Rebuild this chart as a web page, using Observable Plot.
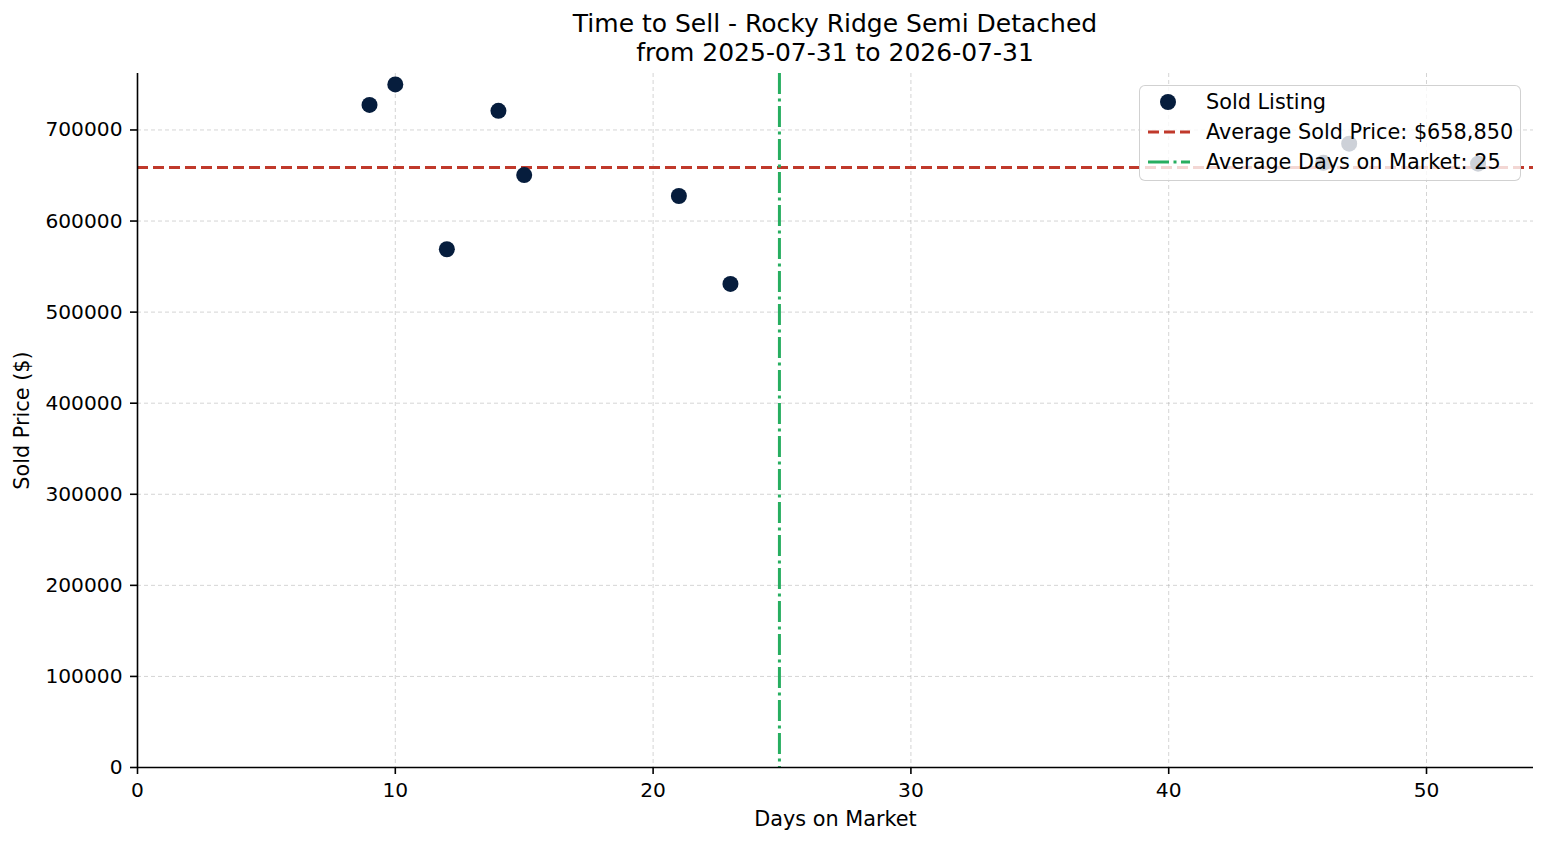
<!DOCTYPE html>
<html>
<head>
<meta charset="utf-8">
<script src="https://cdn.jsdelivr.net/npm/d3@7"></script>
<script src="https://cdn.jsdelivr.net/npm/@observablehq/plot@0.6"></script>
<style>
  html, body { margin: 0; padding: 0; background: #fff; }
  body { font-family: "DejaVu Sans", sans-serif; }
  #wrap { position: relative; width: 1547px; height: 845px; overflow: hidden; }
  #title { position: absolute; left: 137px; width: 1396px; top: 10px; text-align: center;
           font-size: 25px; line-height: 28.5px; color: #000; }
  #chart { position: absolute; left: 0; top: 65px; }
  #legend { position: absolute; left: 1139px; top: 85px; width: 382px; height: 96px; box-sizing: border-box;
            background: rgba(255,255,255,0.8); border: 1.6px solid rgba(204,204,204,0.9); border-radius: 6px; }
  #legend .row { position: absolute; left: 0; height: 30px; width: 100%; }
  #legend .row svg { position: absolute; left: 7px; top: 0; }
  #legend .row span { position: absolute; left: 66px; top: 0; line-height: 30px; font-size: 20.8px; color: #000; white-space: nowrap; }
</style>
</head>
<body>
<div id="wrap">
  <div id="title"></div>
  <div id="chart"></div>
  <div id="legend"></div>
</div>
<script>
// ---- data ----
const titleLines = ["Time to Sell - Rocky Ridge Semi Detached", "from 2025-07-31 to 2026-07-31"];
const daysOnMarket = [9, 10, 12, 14, 15, 21, 23, 46, 47, 52];
const soldPrices = [727500, 750000, 569000, 721000, 650500, 627500, 531000, 664000, 685000, 663000];
const xTicks = [0, 10, 20, 30, 40, 50];
const yTicks = [0, 100000, 200000, 300000, 400000, 500000, 600000, 700000];
const xLabel = "Days on Market";
const yLabel = "Sold Price ($)";
const legendLabels = ["Sold Listing", "Average Sold Price: ", "Average Days on Market: "];

const colors = { point: "#061d3d", price: "#c0392b", days: "#27ae60" };

const rows = daysOnMarket.map((d, i) => ({ days: d, price: soldPrices[i] }));
const avgPrice = d3.mean(soldPrices);
const avgDays = d3.mean(daysOnMarket);

document.getElementById("title").innerHTML = titleLines.join("<br>");

const plot = Plot.plot({
  width: 1547,
  height: 780,
  marginTop: 8,
  marginBottom: 78,
  marginLeft: 137,
  marginRight: 14,
  style: { fontFamily: "DejaVu Sans, sans-serif", fontSize: "20.2px", color: "#000", background: "#fff" },
  x: { domain: [0, 54.15] },
  y: { domain: [0, 762000] },
  marks: [
    Plot.gridX(xTicks, { stroke: "#b0b0b0", strokeOpacity: 0.55, strokeWidth: 1, strokeDasharray: "4,3" }),
    Plot.gridY(yTicks, { stroke: "#b0b0b0", strokeOpacity: 0.55, strokeWidth: 1, strokeDasharray: "4,3" }),
    Plot.ruleY([avgPrice], { stroke: colors.price, strokeWidth: 3, strokeDasharray: "11,5" }),
    Plot.ruleX([avgDays], { stroke: colors.days, strokeWidth: 3, strokeDasharray: "21,4.5,3,4.5" }),
    Plot.dot(rows, { x: "days", y: "price", r: 8, fill: colors.point, stroke: "none" }),
    Plot.axisX(xTicks, { tickSize: 7, tickPadding: 8, stroke: "#000", strokeWidth: 1.6, label: null, fill: "#000" }),
    Plot.axisY(yTicks, { tickSize: 7, tickPadding: 8, stroke: "#000", strokeWidth: 1.6, label: null, fill: "#000", tickFormat: d3.format("d") }),
    Plot.ruleX([0], { stroke: "#000", strokeWidth: 1.6 }),
    Plot.ruleY([0], { stroke: "#000", strokeWidth: 1.6 }),
    Plot.text([xLabel], { frameAnchor: "bottom", dy: 52, lineAnchor: "middle", textAnchor: "middle", text: d => d, fill: "#000", fontSize: 20.8 }),
    Plot.text([yLabel], { frameAnchor: "left", dx: -115, rotate: -90, lineAnchor: "middle", textAnchor: "middle", text: d => d, fill: "#000", fontSize: 20.8 })
  ]
});
document.getElementById("chart").appendChild(plot);

// legend
const legend = document.getElementById("legend");
const fmtPrice = d3.format("$,.0f");
const entries = [
  { label: legendLabels[0], kind: "dot" },
  { label: legendLabels[1] + fmtPrice(avgPrice), kind: "price" },
  { label: legendLabels[2] + d3.format(".0f")(avgDays), kind: "days" }
];
entries.forEach((e, i) => {
  const row = document.createElement("div");
  row.className = "row";
  row.style.top = (1 + i * 30) + "px";
  let handle;
  if (e.kind === "dot") {
    handle = `<svg width="46" height="30"><circle cx="21" cy="15" r="8" fill="${colors.point}"/></svg>`;
  } else if (e.kind === "price") {
    handle = `<svg width="46" height="30"><line x1="1" x2="43" y1="15" y2="15" stroke="${colors.price}" stroke-width="3" stroke-dasharray="11,5"/></svg>`;
  } else {
    handle = `<svg width="46" height="30"><line x1="1" x2="43" y1="15" y2="15" stroke="${colors.days}" stroke-width="3" stroke-dasharray="21,4.5,3,4.5"/></svg>`;
  }
  row.innerHTML = handle + `<span>${e.label}</span>`;
  legend.appendChild(row);
});
</script>
</body>
</html>
